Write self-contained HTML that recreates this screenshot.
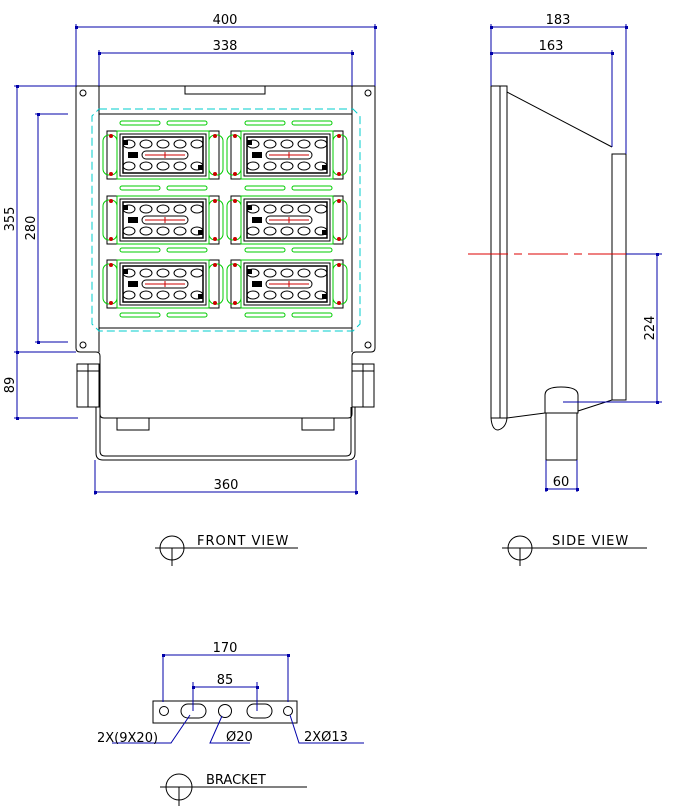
<!DOCTYPE html>
<html><head><meta charset="utf-8"><style>
html,body{margin:0;padding:0;background:#fff}
svg{display:block}
text{font-family:"DejaVu Sans","Liberation Sans",sans-serif;font-size:13px;fill:#000}
</style></head><body>
<svg width="677" height="812" viewBox="0 0 677 812" xmlns="http://www.w3.org/2000/svg">
<defs>
<g id="mod">
<rect x="0" y="0" width="112" height="48" fill="none" stroke="#000"/>
<rect x="-4" y="4" width="14" height="40" rx="6" fill="none" stroke="#0c0"/>
<rect x="102" y="4" width="14" height="40" rx="6" fill="none" stroke="#0c0"/>
<rect x="10" y="0" width="92" height="48" fill="none" stroke="#0c0"/>
<rect x="13" y="3" width="86" height="42" fill="none" stroke="#000"/>
<rect x="16" y="6" width="80" height="36" fill="none" stroke="#000" stroke-width="1.5"/>
<circle cx="4" cy="5" r="2" fill="#c00"/><circle cx="4" cy="43" r="2" fill="#c00"/>
<circle cx="108" cy="5" r="2" fill="#c00"/><circle cx="108" cy="43" r="2" fill="#c00"/>
<g fill="none" stroke="#000">
<ellipse cx="22" cy="13" rx="6" ry="4"/><ellipse cx="39" cy="13" rx="6" ry="4"/><ellipse cx="56" cy="13" rx="6" ry="4"/><ellipse cx="73" cy="13" rx="6" ry="4"/><ellipse cx="90" cy="13" rx="6" ry="4"/>
<ellipse cx="22" cy="35" rx="6" ry="4"/><ellipse cx="39" cy="35" rx="6" ry="4"/><ellipse cx="56" cy="35" rx="6" ry="4"/><ellipse cx="73" cy="35" rx="6" ry="4"/><ellipse cx="90" cy="35" rx="6" ry="4"/>
<rect x="35" y="20" width="46" height="8" rx="4"/>
</g>
<rect x="16" y="9" width="5" height="5" fill="#000"/><rect x="91" y="34" width="5" height="5" fill="#000"/>
<rect x="21" y="21" width="10" height="6" fill="#000"/>
<line x1="38" y1="24" x2="78" y2="24" stroke="#c00"/><line x1="58" y1="21" x2="58" y2="27" stroke="#c00"/>
</g>
<g id="slots" fill="none" stroke="#0c0">
<rect x="0" y="-2" width="40" height="4" rx="2"/><rect x="47" y="-2" width="40" height="4" rx="2"/>
<rect x="125" y="-2" width="40" height="4" rx="2"/><rect x="172" y="-2" width="40" height="4" rx="2"/>
</g>
</defs>

<!-- FRONT VIEW -->
<g fill="none" stroke="#000">
<path d="M76 86 H375 V348 Q375 352 371 352 H356 Q352 352 352 356 V414 Q352 418 348 418 H104 Q100 418 100 414 V356 Q100 352 96 352 H80 Q76 352 76 348 Z"/>
<line x1="99" y1="86" x2="99" y2="352"/><line x1="352" y1="86" x2="352" y2="352"/>
<rect x="185" y="86" width="80" height="8"/>
<rect x="99" y="114" width="253" height="214"/>
<circle cx="83" cy="93" r="3"/><circle cx="368" cy="93" r="3"/>
<circle cx="83" cy="345" r="3"/><circle cx="368" cy="345" r="3"/>
<rect x="77" y="364" width="22" height="43"/><line x1="88" y1="364" x2="88" y2="407"/><line x1="77" y1="371" x2="99" y2="371"/>
<rect x="352" y="364" width="22" height="43"/><line x1="363" y1="364" x2="363" y2="407"/><line x1="352" y1="371" x2="374" y2="371"/>
<rect x="117" y="418" width="32" height="12"/><rect x="302" y="418" width="32" height="12"/>
<path d="M96 407 V453 Q96 460 103 460 H348 Q355 460 355 453 V407"/>
<path d="M100 407 V451 Q100 456 105 456 H346 Q351 456 351 451 V407"/>
</g>
<path d="M99 109 H353 L360 116 V324 L353 331 H99 L92 324 V116 Z" fill="none" stroke="#0cc" stroke-dasharray="8,4"/>
<use href="#slots" x="120" y="123"/><use href="#slots" x="120" y="188"/><use href="#slots" x="120" y="250"/><use href="#slots" x="120" y="315"/>
<use href="#mod" x="107" y="131"/><use href="#mod" x="231" y="131"/>
<use href="#mod" x="107" y="196"/><use href="#mod" x="231" y="196"/>
<use href="#mod" x="107" y="260"/><use href="#mod" x="231" y="260"/>

<!-- front dims -->
<g stroke="#00a" fill="none">
<line x1="76" y1="24" x2="76" y2="86"/><line x1="375" y1="24" x2="375" y2="86"/><line x1="76" y1="27" x2="375" y2="27"/>
<line x1="99" y1="50" x2="99" y2="86"/><line x1="352" y1="50" x2="352" y2="86"/><line x1="99" y1="53" x2="352" y2="53"/>
<line x1="14" y1="86" x2="76" y2="86"/><line x1="14" y1="352" x2="76" y2="352"/><line x1="17" y1="86" x2="17" y2="418"/><line x1="14" y1="418" x2="78" y2="418"/>
<line x1="35" y1="114" x2="68" y2="114"/><line x1="35" y1="342" x2="68" y2="342"/><line x1="38" y1="114" x2="38" y2="342"/>
<line x1="95" y1="460" x2="95" y2="495"/><line x1="356" y1="460" x2="356" y2="495"/><line x1="95" y1="492" x2="356" y2="492"/>
</g>
<g fill="#00a">
<rect x="75" y="26" width="3" height="3"/><rect x="374" y="26" width="3" height="3"/>
<rect x="98" y="52" width="3" height="3"/><rect x="351" y="52" width="3" height="3"/>
<rect x="16" y="85" width="3" height="3"/><rect x="16" y="351" width="3" height="3"/><rect x="16" y="417" width="3" height="3"/>
<rect x="37" y="113" width="3" height="3"/><rect x="37" y="341" width="3" height="3"/>
<rect x="94" y="491" width="3" height="3"/><rect x="355" y="491" width="3" height="3"/>
</g>
<text x="225" y="24" text-anchor="middle">400</text>
<text x="225" y="50" text-anchor="middle">338</text>
<text transform="translate(14 219) rotate(-90)" text-anchor="middle">355</text>
<text transform="translate(35 228) rotate(-90)" text-anchor="middle">280</text>
<text transform="translate(14 385) rotate(-90)" text-anchor="middle">89</text>
<text x="226" y="489" text-anchor="middle">360</text>

<!-- SIDE VIEW -->
<g fill="none" stroke="#000">
<rect x="491" y="86" width="16" height="332"/><line x1="500" y1="86" x2="500" y2="418"/>
<line x1="507" y1="92" x2="612" y2="147"/>
<rect x="612" y="154" width="14" height="246"/>
<path d="M491 418 Q492 430 498 430 Q506 428 507 418"/>
<line x1="507" y1="418" x2="545" y2="413"/><line x1="578" y1="411" x2="612" y2="400"/>
<path d="M545 413 V395 Q545 387 561 387 Q578 387 578 395 V413 Z"/>
<rect x="546" y="413" width="31" height="47"/>
</g>
<line x1="468" y1="254" x2="626" y2="254" stroke="#d00" stroke-dasharray="40,6,8,6"/>
<g stroke="#00a" fill="none">
<line x1="491" y1="24" x2="491" y2="86"/><line x1="626" y1="24" x2="626" y2="154"/><line x1="491" y1="27" x2="626" y2="27"/>
<line x1="612" y1="50" x2="612" y2="147"/><line x1="491" y1="53" x2="612" y2="53"/>
<line x1="626" y1="254" x2="662" y2="254"/><line x1="563" y1="402" x2="662" y2="402"/><line x1="657" y1="254" x2="657" y2="402"/>
<line x1="546" y1="460" x2="546" y2="492"/><line x1="577" y1="460" x2="577" y2="492"/><line x1="546" y1="489" x2="577" y2="489"/>
</g>
<g fill="#00a">
<rect x="490" y="26" width="3" height="3"/><rect x="625" y="26" width="3" height="3"/>
<rect x="490" y="52" width="3" height="3"/><rect x="611" y="52" width="3" height="3"/>
<rect x="656" y="253" width="3" height="3"/><rect x="656" y="401" width="3" height="3"/>
<rect x="545" y="488" width="3" height="3"/><rect x="576" y="488" width="3" height="3"/>
</g>
<text x="558" y="24" text-anchor="middle">183</text>
<text x="551" y="50" text-anchor="middle">163</text>
<text transform="translate(654 328) rotate(-90)" text-anchor="middle">224</text>
<text x="561" y="486" text-anchor="middle">60</text>

<!-- view labels -->
<g fill="none" stroke="#000">
<circle cx="172" cy="548" r="12"/><line x1="155" y1="548" x2="298" y2="548"/><line x1="172" y1="548" x2="172" y2="566"/>
<circle cx="520" cy="548" r="12"/><line x1="502" y1="548" x2="647" y2="548"/><line x1="520" y1="548" x2="520" y2="566"/>
<circle cx="179" cy="787" r="13"/><line x1="160" y1="787" x2="307" y2="787"/><line x1="179" y1="787" x2="179" y2="806"/>
</g>
<text x="197" y="545" style="letter-spacing:1px">FRONT  VIEW</text>
<text x="552" y="545" style="letter-spacing:1px">SIDE  VIEW</text>
<text x="206" y="784">BRACKET</text>

<!-- BRACKET -->
<g fill="none" stroke="#000">
<rect x="153" y="701" width="144" height="22"/>
<circle cx="164" cy="711" r="4.5"/>
<rect x="181" y="704" width="25" height="14" rx="7"/>
<circle cx="225" cy="711" r="6.5"/>
<rect x="247" y="704" width="25" height="14" rx="7"/>
<circle cx="288" cy="711" r="4.5"/>
</g>
<g stroke="#00a" fill="none">
<line x1="163" y1="655" x2="163" y2="702"/><line x1="288" y1="655" x2="288" y2="702"/><line x1="163" y1="655" x2="288" y2="655"/>
<line x1="193" y1="682" x2="193" y2="711"/><line x1="257" y1="682" x2="257" y2="711"/><line x1="193" y1="687" x2="257" y2="687"/>
<path d="M190 715 L171 743 H112"/>
<path d="M222 716 L210 743 H250"/>
<path d="M290 715 L299 743 H364"/>
</g>
<g fill="#00a">
<rect x="162" y="654" width="3" height="3"/><rect x="287" y="654" width="3" height="3"/>
<rect x="192" y="686" width="3" height="3"/><rect x="256" y="686" width="3" height="3"/>
</g>
<text x="225" y="652" text-anchor="middle">170</text>
<text x="225" y="684" text-anchor="middle">85</text>
<text x="97" y="742">2X(9X20)</text>
<text x="226" y="741">Ø20</text>
<text x="304" y="741">2XØ13</text>
</svg>
</body></html>
